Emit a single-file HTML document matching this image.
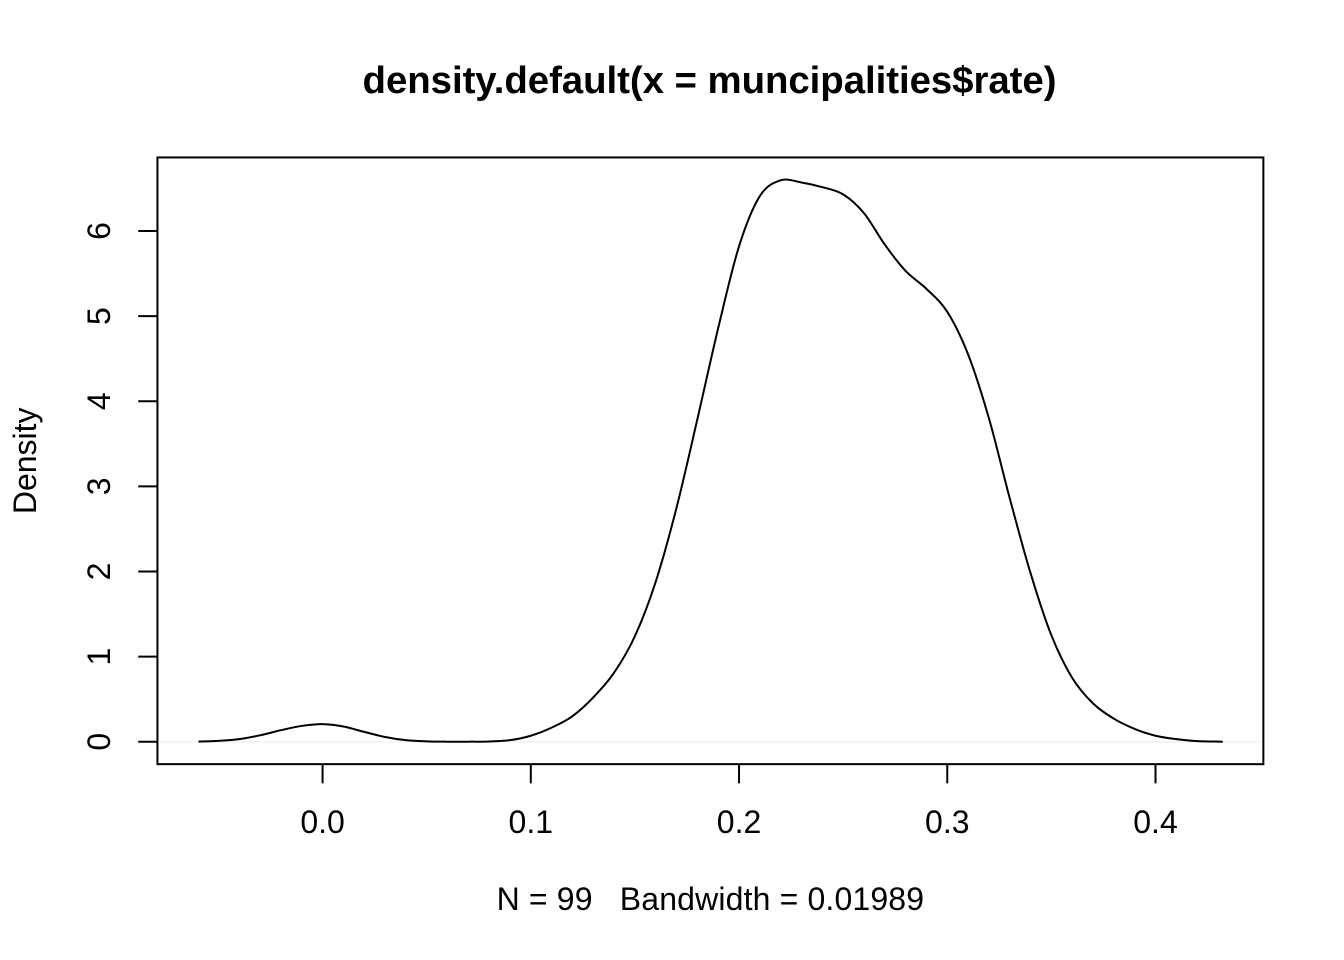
<!DOCTYPE html>
<html>
<head>
<meta charset="utf-8">
<title>density.default(x = muncipalities$rate)</title>
<style>
html,body{margin:0;padding:0;background:#fff;width:1344px;height:960px;overflow:hidden}
svg{display:block}
text{font-family:"Liberation Sans",Arial,sans-serif;fill:#000}
</style>
</head>
<body>
<svg id="chart" width="1344" height="960" viewBox="0 0 1344 960" xmlns="http://www.w3.org/2000/svg">
<rect x="0" y="0" width="1344" height="960" fill="#fff"/>
<text x="709.5" y="93" font-size="38.4" font-weight="bold" text-anchor="middle" letter-spacing="-0.05">density.default(x = muncipalities$rate)</text>
<text x="710.4" y="910" font-size="32" text-anchor="middle" letter-spacing="0.15" xml:space="preserve">N = 99   Bandwidth = 0.01989</text>
<text x="36" y="460.8" font-size="32" text-anchor="middle" transform="rotate(-90 36 460.8)">Density</text>
</svg>
<script>
const xTicks = [0, 0.1, 0.2, 0.3, 0.4];
const xTickLabels = ["0.0", "0.1", "0.2", "0.3", "0.4"];
const yTicks = [0, 1, 2, 3, 4, 5, 6];
const yTickLabels = ["0", "1", "2", "3", "4", "5", "6"];
const rate = [-0.0596,-0.05,-0.04,-0.03,-0.02,-0.01,0,0.01,0.02,0.03,0.04,0.05,0.06,0.07,0.08,0.09,0.1,0.11,0.12,0.13,0.14,0.15,0.16,0.17,0.18,0.19,0.2,0.21,0.22,0.23,0.24,0.25,0.26,0.27,0.28,0.29,0.3,0.31,0.32,0.33,0.34,0.35,0.36,0.37,0.38,0.39,0.4,0.41,0.42,0.4323];
const density = [0.002,0.01,0.03,0.075,0.135,0.185,0.206,0.178,0.115,0.055,0.018,0.004,0,0,0.002,0.018,0.07,0.165,0.3,0.52,0.81,1.24,1.88,2.75,3.79,4.86,5.82,6.41,6.595,6.57,6.515,6.43,6.21,5.84,5.53,5.32,5.05,4.55,3.8,2.86,1.98,1.25,0.75,0.45,0.27,0.15,0.07,0.03,0.007,0];

const NS = "http://www.w3.org/2000/svg";
const svg = document.getElementById("chart");
const plotLeft = 157.44, plotRight = 1263.36, plotTop = 157.44, plotBottom = 764.16;
const xMin = -0.0793, xMax = 0.4518, yMin = -0.264, yMax = 6.864;
function xScale(v){ return plotLeft + (v - xMin) / (xMax - xMin) * (plotRight - plotLeft); }
function yScale(v){ return plotBottom - (v - yMin) / (yMax - yMin) * (plotBottom - plotTop); }
function make(tag, attrs){
  const el = document.createElementNS(NS, tag);
  for (const k in attrs) el.setAttribute(k, attrs[k]);
  svg.appendChild(el);
  return el;
}

const zeroLine = make("line", {x1: plotLeft, x2: plotRight, y1: yScale(0), y2: yScale(0), stroke: "#f3f3f3", "stroke-width": 2});



const pts = rate.map((r, i) => [xScale(r), yScale(density[i])]);
function slope(i){
  const a = pts[Math.max(i - 1, 0)], b = pts[Math.min(i + 1, pts.length - 1)];
  return (b[1] - a[1]) / (b[0] - a[0]);
}
let d = "M" + pts[0][0].toFixed(2) + " " + pts[0][1].toFixed(2);
for (let i = 0; i < pts.length - 1; i++) {
  const p1 = pts[i], p2 = pts[i + 1], h = (p2[0] - p1[0]) / 3;
  d += "C" + (p1[0] + h).toFixed(2) + " " + (p1[1] + slope(i) * h).toFixed(2) + " " + (p2[0] - h).toFixed(2) + " " + (p2[1] - slope(i + 1) * h).toFixed(2) + " " + p2[0].toFixed(2) + " " + p2[1].toFixed(2);
}
const curve = make("path", {d: d, fill: "none", stroke: "#000", "stroke-width": 2, "stroke-linejoin": "round"});



const box = make("rect", {x: plotLeft, y: plotTop, width: plotRight - plotLeft, height: plotBottom - plotTop, fill: "none", stroke: "#000", "stroke-width": 2});



xTicks.forEach((t, i) => {
  const tick = make("line", {x1: xScale(t), x2: xScale(t), y1: plotBottom, y2: plotBottom + 19.2, stroke: "#000", "stroke-width": 2});
  
  
  const label = make("text", {x: xScale(t), y: 833, "font-size": 32, "text-anchor": "middle"});
  
  
  label.textContent = xTickLabels[i];
});

yTicks.forEach((t, i) => {
  const tick = make("line", {x1: plotLeft - 19.2, x2: plotLeft, y1: yScale(t), y2: yScale(t), stroke: "#000", "stroke-width": 2});
  
  
  const label = make("text", {x: 110, y: yScale(t), "font-size": 32, "text-anchor": "middle", transform: "rotate(-90 110 " + yScale(t) + ")"});
  
  
  label.textContent = yTickLabels[i];
});
</script>
</body>
</html>
